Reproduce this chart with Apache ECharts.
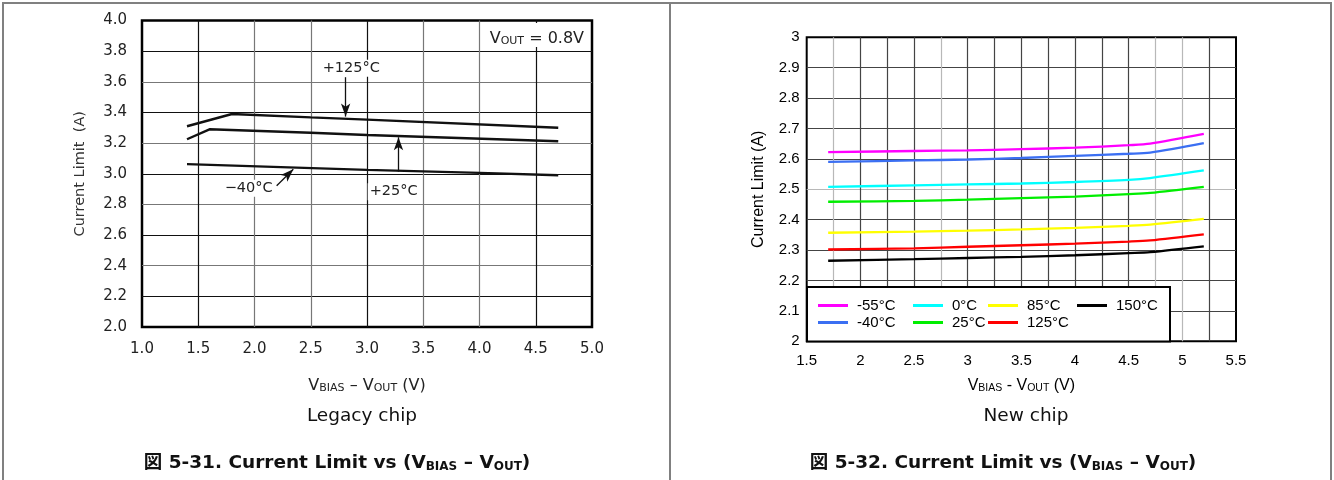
<!DOCTYPE html>
<html><head><meta charset="utf-8">
<script src="https://cdn.jsdelivr.net/npm/echarts@6/dist/echarts.min.js"></script>
<style>html,body{margin:0;padding:0;background:#fff}#c{width:1334px;height:480px}</style>
</head><body><div id="c"></div>
<script>
// ---------- Legacy chip (left) ----------
const legacyX125 = [1.4, 1.8, 2.5, 3.0, 4.7];
const legacyY125 = [3.31, 3.39, 3.368, 3.353, 3.30];
const legacyX25 = [1.4, 1.6, 2.5, 3.0, 4.7];
const legacyY25 = [3.225, 3.29, 3.268, 3.253, 3.212];
const legacyXm40 = [1.4, 3.0, 4.0, 4.7];
const legacyYm40 = [3.063, 3.025, 3.006, 2.99];
const legacyLabels = ['+125°C', '+25°C', '−40°C'];
const legacyLabelAt = [[2.86, 3.688], [3.237, 2.883], [1.948, 2.905]];
const legacyArrowFrom = [[2.81, 3.63], [3.28, 3.014], [2.197, 2.922]];
const legacyArrowTo = [[2.81, 3.373], [3.28, 3.238], [2.345, 3.029]];
const legacyNoteAt = [4.51, 3.905];

// ---------- New chip (right) ----------
const newNames = ['-55°C', '-40°C', '0°C', '25°C', '85°C', '125°C', '150°C'];
const newX = [1.7, 2.5, 3.0, 3.5, 4.0, 4.5, 4.7, 5.2];
const newM55 = [2.622, 2.626, 2.628, 2.632, 2.637, 2.645, 2.650, 2.682];
const newM40 = [2.590, 2.595, 2.598, 2.603, 2.610, 2.617, 2.621, 2.652];
const new0   = [2.508, 2.513, 2.516, 2.519, 2.524, 2.531, 2.537, 2.562];
const new25  = [2.459, 2.462, 2.466, 2.471, 2.476, 2.484, 2.488, 2.508];
const new85  = [2.357, 2.361, 2.364, 2.368, 2.373, 2.380, 2.384, 2.403];
const new125 = [2.302, 2.306, 2.311, 2.316, 2.321, 2.328, 2.332, 2.352];
const new150 = [2.265, 2.270, 2.274, 2.278, 2.283, 2.290, 2.293, 2.312];
const newValues = [newM55, newM40, new0, new25, new85, new125, new150];
const newColors = ['#ff00ff', '#3b6ff2', '#00ffff', '#00ee00', '#ffff00', '#ff0000', '#000000'];

const FL = 'DejaVu Sans';
const FR = 'Liberation Sans, Arial';
const FC = 'DejaVu Sans, Noto Sans CJK JP';

const zip = (xs, ys) => xs.map((x, i) => [x, ys[i]]);

const chart = echarts.init(document.getElementById('c'), null, {renderer: 'canvas'});

const subRich = (fam, main, sub, col) => ({
  n: {fontFamily: fam, fontSize: main, lineHeight: main + 8, verticalAlign: 'bottom', color: col},
  s: {fontFamily: fam, fontSize: sub, lineHeight: sub, verticalAlign: 'bottom', color: col}
});

const legacySeries = [
  {name: '+125', data: zip(legacyX125, legacyY125)},
  {name: '+25', data: zip(legacyX25, legacyY25)},
  {name: '-40', data: zip(legacyXm40, legacyYm40)}
].map(s => ({
  type: 'line', name: s.name, data: s.data, xAxisIndex: 0, yAxisIndex: 0,
  symbol: 'none', smooth: false, silent: true,
  lineStyle: {color: '#111', width: 2.4}, z: 3
}));

legacySeries[0].markLine = {
  silent: true, animation: false,
  symbol: ['none', 'arrow'],
  lineStyle: {color: '#111', width: 1.3, type: 'solid'},
  label: {show: false},
  data: legacyArrowFrom.map((f, i) => [
    {coord: f, symbol: 'none'},
    {coord: legacyArrowTo[i], symbol: 'arrow', symbolSize: [7, 13]}
  ])
};
legacySeries[0].markPoint = {
  silent: true, animation: false,
  symbol: 'rect', symbolSize: 1,
  itemStyle: {color: 'rgba(0,0,0,0)'},
  label: {show: true, position: 'inside', color: '#222', fontFamily: FL, fontSize: 14.5,
          backgroundColor: '#fff', padding: [1, 2]},
  data: legacyLabels.map((t, i) => ({coord: legacyLabelAt[i], value: 0, label: {formatter: t}})).concat([
    {coord: legacyNoteAt, value: 0, label: {
      formatter: '{n|V}{s|OUT}{n| = 0.8V}',
      rich: subRich(FL, 16, 11, '#222'), padding: [0, 3]
    }}
  ])
};

const newSeries = newNames.map((nm, i) => ({
  type: 'line', name: nm, data: zip(newX, newValues[i]),
  xAxisIndex: 1, yAxisIndex: 1, symbol: 'none', showSymbol: false, smooth: 0.3, silent: true,
  lineStyle: {color: newColors[i], width: 2.3}, itemStyle: {color: newColors[i]}, z: 3
}));

const legendBase = {
  orient: 'vertical', icon: 'rect', itemWidth: 30, itemHeight: 3, itemGap: 2, padding: 0,
  selectedMode: false, z: 10,
  textStyle: {fontFamily: FR, fontSize: 15, color: '#000', padding: [0, 0, 0, 4]}
};

// split line colours, one per drawn inner line (min/max lines hidden)
const rightXColors = ['#b8b8b8', '#444', '#444', '#444', '#b8b8b8', '#444', '#444', '#444',
  '#444', '#444', '#444', '#444', '#b8b8b8', '#b8b8b8', '#444'];
const rightYColors = ['#444', '#444', '#444', '#444', '#b8b8b8', '#444', '#444', '#444', '#444'];

const option = {
  animation: false,
  backgroundColor: '#fff',
  grid: [
    {left: 142, top: 20.5, width: 450, height: 306.5, show: true, borderColor: '#000', borderWidth: 2.5,
     outerBoundsMode: 'none', containLabel: false},
    {left: 806.7, top: 37.3, width: 429.3, height: 304, show: true, borderColor: '#000', borderWidth: 2,
     outerBoundsMode: 'none', containLabel: false}
  ],
  xAxis: [
    {gridIndex: 0, type: 'value', min: 1, max: 5, interval: 0.5,
     axisLine: {show: false}, axisTick: {show: false},
     splitLine: {show: true, showMinLine: false, showMaxLine: false,
                 lineStyle: {color: ['#111', '#777', '#777'], width: 1.2}},
     axisLabel: {formatter: v => v.toFixed(1), fontFamily: FL, fontSize: 15, color: '#222', margin: 15},
     name: '{n|V}{s|BIAS}{n| – V}{s|OUT}{n| (V)}', nameLocation: 'middle', nameGap: 43,
     nameTextStyle: {rich: subRich(FL, 16, 11, '#222')}},
    {gridIndex: 1, type: 'value', min: 1.5, max: 5.5, interval: 0.25,
     axisLine: {show: false}, axisTick: {show: false},
     splitLine: {show: true, showMinLine: false, showMaxLine: false,
                 lineStyle: {color: rightXColors, width: 1.2}},
     axisLabel: {formatter: v => (Math.abs(v * 2 - Math.round(v * 2)) < 1e-6 ? String(Math.round(v * 100) / 100) : ''),
                 fontFamily: FR, fontSize: 15, color: '#000', margin: 12},
     name: '{n|V}{s|BIAS}{n| - V}{s|OUT}{n| (V)}', nameLocation: 'middle', nameGap: 28,
     nameTextStyle: {rich: subRich(FR, 16, 10.5, '#000')}}
  ],
  yAxis: [
    {gridIndex: 0, type: 'value', min: 2, max: 4, interval: 0.2,
     axisLine: {show: false}, axisTick: {show: false},
     splitLine: {show: true, showMinLine: false, showMaxLine: false,
                 lineStyle: {color: ['#111', '#777'], width: 1.2}},
     axisLabel: {formatter: v => v.toFixed(1), fontFamily: FL, fontSize: 15, color: '#222', margin: 15},
     name: 'Current Limit  (A)', nameLocation: 'middle', nameGap: 54,
     nameTextStyle: {fontFamily: FL, fontSize: 14.5, color: '#333'}},
    {gridIndex: 1, type: 'value', min: 2, max: 3, interval: 0.1,
     axisLine: {show: false}, axisTick: {show: false},
     splitLine: {show: true, showMinLine: false, showMaxLine: false,
                 lineStyle: {color: rightYColors, width: 1.2}},
     axisLabel: {fontFamily: FR, fontSize: 15, color: '#000', margin: 7},
     name: 'Current Limit (A)', nameLocation: 'middle', nameGap: 40,
     nameTextStyle: {fontFamily: FR, fontSize: 16, color: '#000'}}
  ],
  legend: [
    Object.assign({}, legendBase, {left: 818, top: 298, data: ['-55°C', '-40°C']}),
    Object.assign({}, legendBase, {left: 913, top: 298, data: ['0°C', '25°C']}),
    Object.assign({}, legendBase, {left: 988, top: 298, data: ['85°C', '125°C']}),
    Object.assign({}, legendBase, {left: 1077, top: 298, data: ['150°C']})
  ],
  graphic: [
    {type: 'line', shape: {x1: 2, y1: 3, x2: 1332, y2: 3}, style: {stroke: '#808080', lineWidth: 2}, silent: true},
    {type: 'line', shape: {x1: 3, y1: 3, x2: 3, y2: 480}, style: {stroke: '#808080', lineWidth: 2}, silent: true},
    {type: 'line', shape: {x1: 670, y1: 3, x2: 670, y2: 480}, style: {stroke: '#808080', lineWidth: 2}, silent: true},
    {type: 'line', shape: {x1: 1331, y1: 3, x2: 1331, y2: 480}, style: {stroke: '#808080', lineWidth: 2}, silent: true},
    {type: 'rect', z: 5, silent: true, shape: {x: 807, y: 287, width: 363, height: 54.5},
     style: {fill: '#fff', stroke: '#000', lineWidth: 2}},
    {type: 'text', x: 362, y: 416, silent: true,
     style: {text: 'Legacy chip', font: '18.5px "DejaVu Sans"', fill: '#111', align: 'center', verticalAlign: 'middle'}},
    {type: 'text', x: 1026, y: 416, silent: true,
     style: {text: 'New chip', font: '18.5px "DejaVu Sans"', fill: '#111', align: 'center', verticalAlign: 'middle'}},
    {type: 'text', x: 337, y: 460, silent: true,
     style: {text: '{z|図 5-31. Current Limit vs (V}{s|BIAS}{z| – V}{s|OUT}{z|)}', align: 'center', verticalAlign: 'middle',
             rich: {z: {fontFamily: FC, fontWeight: 'bold', fontSize: 18.5, lineHeight: 25, verticalAlign: 'bottom', fill: '#111'},
                    s: {fontFamily: FC, fontWeight: 'bold', fontSize: 12, lineHeight: 12, verticalAlign: 'bottom', fill: '#111'}}}},
    {type: 'text', x: 1003, y: 460, silent: true,
     style: {text: '{z|図 5-32. Current Limit vs (V}{s|BIAS}{z| – V}{s|OUT}{z|)}', align: 'center', verticalAlign: 'middle',
             rich: {z: {fontFamily: FC, fontWeight: 'bold', fontSize: 18.5, lineHeight: 25, verticalAlign: 'bottom', fill: '#111'},
                    s: {fontFamily: FC, fontWeight: 'bold', fontSize: 12, lineHeight: 12, verticalAlign: 'bottom', fill: '#111'}}}}
  ],
  series: legacySeries.concat(newSeries)
};
chart.setOption(option);
</script>
</body></html>
